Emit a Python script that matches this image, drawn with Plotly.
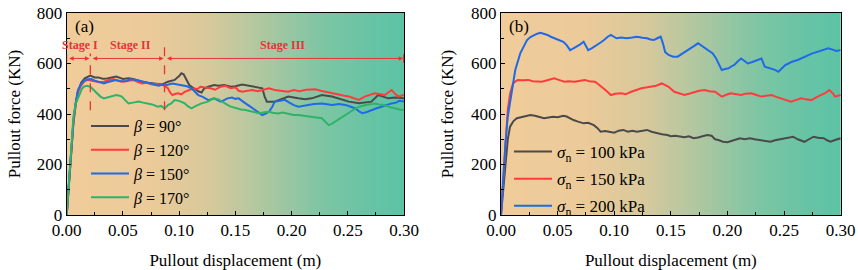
import plotly.graph_objects as go

# ---------------- data ----------------
# Panel (a): effect of angle beta
a_gray_x = [0, 0.002, 0.004, 0.006, 0.008, 0.010, 0.013, 0.016, 0.021, 0.025, 0.028, 0.032, 0.036, 0.040, 0.044, 0.050, 0.055, 0.059, 0.063, 0.067, 0.072, 0.076, 0.080, 0.085, 0.090, 0.096, 0.100, 0.102, 0.104, 0.107, 0.109, 0.113, 0.117, 0.120, 0.122, 0.126, 0.131, 0.135, 0.140, 0.146, 0.150, 0.156, 0.162, 0.168, 0.174, 0.176, 0.178, 0.185, 0.190, 0.197, 0.206, 0.212, 0.218, 0.227, 0.236, 0.243, 0.251, 0.260, 0.266, 0.271, 0.277, 0.282, 0.286, 0.292, 0.300]
a_gray_y = [0, 120, 260, 370, 440, 490, 525, 541, 552, 545, 545, 540, 541, 545, 548, 539, 542, 539, 533, 528, 524, 521, 518, 517, 528, 535, 550, 561, 557, 535, 515, 502, 490, 485, 500, 508, 515, 512, 515, 508, 510, 517, 512, 505, 502, 470, 449, 449, 458, 469, 462, 458, 462, 475, 469, 460, 449, 443, 446, 449, 475, 468, 462, 465, 462]

a_red_x = [0, 0.002, 0.004, 0.006, 0.008, 0.010, 0.013, 0.016, 0.019, 0.022, 0.025, 0.029, 0.033, 0.037, 0.041, 0.045, 0.050, 0.054, 0.059, 0.063, 0.067, 0.071, 0.076, 0.080, 0.085, 0.088, 0.090, 0.092, 0.094, 0.097, 0.099, 0.102, 0.105, 0.109, 0.113, 0.116, 0.119, 0.123, 0.128, 0.132, 0.137, 0.141, 0.146, 0.150, 0.153, 0.156, 0.160, 0.165, 0.170, 0.174, 0.180, 0.185, 0.190, 0.197, 0.202, 0.207, 0.213, 0.221, 0.226, 0.230, 0.236, 0.242, 0.247, 0.251, 0.256, 0.260, 0.265, 0.270, 0.274, 0.279, 0.283, 0.286, 0.289, 0.292, 0.295, 0.300]
a_red_y = [0, 120, 255, 365, 435, 485, 515, 530, 535, 532, 531, 526, 528, 534, 539, 532, 528, 531, 535, 527, 521, 524, 517, 519, 515, 508, 502, 485, 475, 480, 482, 478, 488, 495, 502, 498, 508, 505, 502, 496, 508, 512, 502, 506, 492, 488, 492, 495, 490, 495, 502, 495, 492, 488, 495, 490, 496, 498, 492, 488, 480, 475, 472, 469, 462, 456, 469, 476, 482, 478, 475, 485, 495, 480, 469, 475]

a_blue_x = [0, 0.002, 0.004, 0.006, 0.008, 0.010, 0.013, 0.016, 0.019, 0.022, 0.025, 0.028, 0.031, 0.033, 0.036, 0.039, 0.042, 0.044, 0.048, 0.053, 0.057, 0.062, 0.066, 0.070, 0.074, 0.079, 0.082, 0.085, 0.089, 0.094, 0.098, 0.103, 0.107, 0.111, 0.114, 0.117, 0.121, 0.126, 0.131, 0.134, 0.137, 0.140, 0.143, 0.147, 0.150, 0.153, 0.156, 0.159, 0.163, 0.168, 0.171, 0.174, 0.177, 0.180, 0.183, 0.185, 0.190, 0.194, 0.198, 0.202, 0.206, 0.210, 0.215, 0.220, 0.227, 0.232, 0.236, 0.242, 0.248, 0.252, 0.257, 0.260, 0.263, 0.267, 0.271, 0.275, 0.280, 0.284, 0.289, 0.293, 0.296, 0.300]
a_blue_y = [0, 125, 265, 375, 445, 495, 520, 535, 538, 539, 532, 528, 522, 521, 526, 528, 533, 535, 530, 531, 538, 535, 531, 528, 522, 515, 512, 517, 515, 521, 518, 515, 510, 502, 490, 475, 468, 455, 462, 455, 449, 455, 462, 465, 460, 462, 450, 442, 430, 416, 405, 396, 402, 409, 430, 449, 452, 456, 445, 435, 429, 432, 436, 440, 442, 438, 436, 440, 436, 430, 422, 410, 403, 408, 416, 422, 429, 436, 442, 445, 452, 449]

a_green_x = [0, 0.002, 0.004, 0.006, 0.008, 0.0107, 0.013, 0.015, 0.018, 0.021, 0.023, 0.026, 0.030, 0.033, 0.036, 0.040, 0.044, 0.047, 0.049, 0.052, 0.055, 0.060, 0.064, 0.068, 0.072, 0.076, 0.081, 0.084, 0.087, 0.090, 0.093, 0.096, 0.100, 0.105, 0.108, 0.111, 0.115, 0.120, 0.125, 0.131, 0.135, 0.140, 0.143, 0.146, 0.150, 0.155, 0.159, 0.164, 0.168, 0.171, 0.176, 0.180, 0.183, 0.188, 0.192, 0.197, 0.202, 0.206, 0.211, 0.218, 0.222, 0.227, 0.230, 0.233, 0.236, 0.239, 0.243, 0.248, 0.252, 0.257, 0.261, 0.266, 0.270, 0.274, 0.278, 0.282, 0.287, 0.292, 0.296, 0.300]
a_green_y = [0, 130, 290, 390, 440, 470, 495, 508, 512, 508, 500, 488, 469, 462, 465, 470, 475, 472, 469, 455, 442, 446, 449, 445, 442, 438, 429, 432, 422, 435, 442, 455, 452, 442, 430, 422, 432, 442, 448, 462, 458, 442, 436, 429, 424, 418, 416, 410, 405, 403, 407, 409, 405, 402, 406, 400, 396, 396, 392, 389, 386, 383, 370, 356, 362, 370, 382, 396, 408, 422, 430, 436, 440, 442, 438, 436, 428, 422, 418, 416]

# Panel (b): effect of normal stress
b_gray_x = [0, 0.002, 0.004, 0.006, 0.008, 0.011, 0.014, 0.017, 0.020, 0.023, 0.026, 0.030, 0.034, 0.038, 0.042, 0.046, 0.050, 0.055, 0.058, 0.061, 0.064, 0.068, 0.073, 0.077, 0.082, 0.085, 0.088, 0.092, 0.096, 0.100, 0.104, 0.108, 0.112, 0.116, 0.120, 0.124, 0.129, 0.133, 0.138, 0.142, 0.147, 0.150, 0.154, 0.158, 0.162, 0.166, 0.170, 0.174, 0.178, 0.182, 0.186, 0.189, 0.192, 0.196, 0.200, 0.204, 0.208, 0.211, 0.215, 0.220, 0.224, 0.229, 0.233, 0.238, 0.242, 0.246, 0.250, 0.254, 0.258, 0.262, 0.265, 0.268, 0.272, 0.276, 0.280, 0.285, 0.288, 0.291, 0.295, 0.300]
b_gray_y = [0, 110, 220, 300, 350, 372, 383, 387, 389, 392, 396, 393, 388, 383, 386, 389, 387, 393, 390, 382, 376, 370, 363, 365, 356, 345, 330, 333, 330, 326, 334, 337, 330, 334, 330, 334, 337, 330, 323, 320, 317, 312, 314, 310, 308, 312, 304, 307, 312, 317, 314, 300, 297, 290, 288, 294, 300, 304, 300, 304, 300, 297, 292, 290, 296, 300, 304, 308, 310, 300, 294, 290, 300, 310, 306, 304, 296, 290, 297, 304]

b_red_x = [0, 0.002, 0.004, 0.006, 0.008, 0.0106, 0.013, 0.015, 0.019, 0.024, 0.028, 0.032, 0.036, 0.040, 0.044, 0.047, 0.051, 0.056, 0.060, 0.065, 0.070, 0.074, 0.078, 0.083, 0.086, 0.089, 0.093, 0.097, 0.101, 0.106, 0.110, 0.115, 0.119, 0.124, 0.128, 0.133, 0.137, 0.142, 0.145, 0.148, 0.153, 0.158, 0.162, 0.166, 0.171, 0.175, 0.180, 0.184, 0.189, 0.192, 0.195, 0.199, 0.203, 0.208, 0.212, 0.216, 0.221, 0.225, 0.230, 0.234, 0.239, 0.243, 0.248, 0.252, 0.256, 0.260, 0.265, 0.269, 0.274, 0.278, 0.283, 0.287, 0.290, 0.293, 0.295, 0.298, 0.300]
b_red_y = [0, 140, 290, 416, 480, 521, 530, 535, 534, 535, 530, 528, 528, 533, 538, 541, 535, 528, 530, 528, 532, 535, 530, 528, 518, 508, 492, 475, 480, 482, 478, 488, 495, 502, 505, 508, 512, 521, 515, 508, 488, 482, 475, 480, 488, 492, 495, 490, 488, 478, 469, 476, 482, 478, 475, 480, 482, 476, 469, 472, 475, 468, 462, 455, 449, 455, 462, 458, 455, 465, 475, 485, 495, 482, 469, 472, 475]

b_blue_x = [0, 0.002, 0.004, 0.006, 0.008, 0.0126, 0.017, 0.020, 0.023, 0.026, 0.029, 0.032, 0.035, 0.038, 0.041, 0.044, 0.047, 0.050, 0.052, 0.055, 0.058, 0.061, 0.064, 0.067, 0.070, 0.073, 0.075, 0.077, 0.080, 0.085, 0.088, 0.091, 0.094, 0.097, 0.100, 0.102, 0.106, 0.111, 0.116, 0.120, 0.125, 0.129, 0.132, 0.135, 0.138, 0.141, 0.143, 0.145, 0.148, 0.152, 0.156, 0.160, 0.165, 0.169, 0.174, 0.178, 0.183, 0.187, 0.190, 0.193, 0.195, 0.198, 0.201, 0.204, 0.206, 0.209, 0.212, 0.215, 0.218, 0.222, 0.227, 0.230, 0.233, 0.236, 0.239, 0.242, 0.245, 0.248, 0.251, 0.254, 0.257, 0.262, 0.266, 0.271, 0.275, 0.280, 0.284, 0.289, 0.293, 0.296, 0.300]
b_blue_y = [0, 150, 290, 390, 442, 574, 640, 670, 693, 705, 713, 718, 722, 718, 713, 706, 700, 696, 693, 686, 673, 653, 660, 667, 676, 686, 670, 653, 660, 673, 683, 693, 705, 713, 706, 700, 703, 700, 703, 706, 702, 700, 695, 693, 700, 706, 680, 645, 634, 627, 627, 638, 653, 665, 680, 668, 653, 640, 620, 595, 574, 578, 581, 590, 594, 608, 620, 610, 600, 606, 614, 620, 587, 583, 581, 575, 567, 580, 594, 600, 607, 614, 622, 634, 640, 647, 652, 660, 655, 650, 653]

a_names = ["<i>β</i> = 90°", "<i>β</i> = 120°", "<i>β</i> = 150°", "<i>β</i> = 170°"]
b_names = ["<i>σ</i><sub>n</sub> = 100 kPa", "<i>σ</i><sub>n</sub> = 150 kPa", "<i>σ</i><sub>n</sub> = 200 kPa"]
x_ticks = [0, 0.05, 0.10, 0.15, 0.20, 0.25, 0.30]
y_ticks = [0, 200, 400, 600, 800]
stage_bounds = [0.0, 0.021, 0.087, 0.30]
stage_labels = ["Stage I", "Stage II", "Stage III"]

# ---------------- style ----------------
FONT = "Liberation Serif, Times New Roman, serif"
C_GRAY, C_RED, C_BLUE, C_GREEN = "#4a4a4a", "#ff3b3b", "#1f6ae6", "#2db469"
C_STAGE = "#e8323a"

fig = go.Figure()

a_series = [(a_gray_x, a_gray_y, C_GRAY), (a_red_x, a_red_y, C_RED),
            (a_blue_x, a_blue_y, C_BLUE), (a_green_x, a_green_y, C_GREEN)]
for i, (xs, ys, c) in enumerate(a_series):
    fig.add_trace(go.Scatter(x=xs, y=ys, mode="lines", name=a_names[i],
                             line=dict(color=c, width=2), xaxis="x", yaxis="y",
                             legend="legend", legendgroup="a%d" % i))

b_series = [(b_gray_x, b_gray_y, C_GRAY), (b_red_x, b_red_y, C_RED), (b_blue_x, b_blue_y, C_BLUE)]
for i, (xs, ys, c) in enumerate(b_series):
    fig.add_trace(go.Scatter(x=xs, y=ys, mode="lines", name=b_names[i],
                             line=dict(color=c, width=2), xaxis="x2", yaxis="y2",
                             legend="legend2", legendgroup="b%d" % i))

# gradient background (orange -> teal) as thin strips
stops = [(0.0, (240, 204, 154)), (0.25, (236, 202, 154)), (0.42, (216, 201, 156)),
         (0.58, (175, 199, 160)), (0.75, (128, 197, 164)), (0.9, (102, 196, 165)),
         (1.0, (94, 195, 165))]

def grad(t):
    for (t0, c0), (t1, c1) in zip(stops[:-1], stops[1:]):
        if t0 <= t <= t1:
            f = (t - t0) / (t1 - t0)
            return "rgb(%d,%d,%d)" % tuple(round(a + (b - a) * f) for a, b in zip(c0, c1))
    return "rgb(%d,%d,%d)" % stops[-1][1]

shapes = []
N = 90
for xr, yr in (("x domain", "y domain"), ("x2 domain", "y2 domain")):
    for k in range(N):
        shapes.append(dict(type="rect", xref=xr, yref=yr, x0=k / N, x1=(k + 1.6) / N if k < N - 1 else 1,
                           y0=0, y1=1, fillcolor=grad((k + 0.5) / N), line=dict(width=0), layer="below"))

# stage annotations on panel (a)
annotations = []
for xb, ytop in ((stage_bounds[1], 640), (stage_bounds[2], 680)):
    shapes.append(dict(type="line", xref="x", yref="y", x0=xb, x1=xb, y0=415, y1=ytop,
                       line=dict(color=C_STAGE, width=1.3, dash="dash")))
for xb in (stage_bounds[0], stage_bounds[3]):
    shapes.append(dict(type="line", xref="x", yref="y", x0=xb, x1=xb, y0=603, y1=637,
                       line=dict(color=C_STAGE, width=2 if xb > 0 else 1)))
for i in range(3):
    x0, x1 = stage_bounds[i], stage_bounds[i + 1]
    annotations.append(dict(x=x1 - 0.0008, y=620, ax=x0 + 0.0008, ay=620, xref="x", yref="y",
                            axref="x", ayref="y", text="", showarrow=True, arrowhead=2,
                            arrowside="end+start", arrowsize=0.9, arrowwidth=1, arrowcolor=C_STAGE))
stage_cx = [0.012, 0.057, 0.192]
for i in range(3):
    annotations.append(dict(x=stage_cx[i], y=672, xref="x", yref="y", text="<b>%s</b>" % stage_labels[i],
                            showarrow=False, font=dict(family=FONT, size=12, color=C_STAGE)))

annotations.append(dict(x=0.018, y=0.935, xref="x domain", yref="y domain", text="(a)", showarrow=False,
                        xanchor="left", yanchor="middle", font=dict(family=FONT, size=17, color="black")))
annotations.append(dict(x=0.018, y=0.935, xref="x2 domain", yref="y2 domain", text="(b)", showarrow=False,
                        xanchor="left", yanchor="middle", font=dict(family=FONT, size=17, color="black")))

# the page's default body margin is removed below, so the figure fills the window
W, H = 858, 270

def px(sx):
    return sx / W

def py(sy):
    return 1 - sy / H

xd1 = [px(66.7), px(404)]
xd2 = [px(501), px(840.7)]
yd = [py(215), py(13)]

def xax(domain, anchor):
    return dict(domain=domain, anchor=anchor, range=[0, 0.3], tickvals=x_ticks, tickformat=".2f",
                ticks="inside", ticklen=4, tickwidth=1, tickcolor="black",
                minor=dict(ticks="inside", ticklen=3, dtick=0.025, tick0=0, tickcolor="black"),
                showline=True, linecolor="black", linewidth=1, mirror=True,
                showgrid=False, zeroline=False, automargin=False, ticklabeloverflow="allow",
                tickfont=dict(family=FONT, size=17, color="black"),
                title=dict(text="Pullout displacement (m)", font=dict(family=FONT, size=17, color="black"),
                           standoff=14))

def yax(domain, anchor, standoff):
    return dict(domain=domain, anchor=anchor, range=[0, 800], tickvals=y_ticks,
                ticks="inside", ticklen=4, tickwidth=1, tickcolor="black",
                minor=dict(ticks="inside", ticklen=3, dtick=100, tick0=0, tickcolor="black"),
                showline=True, linecolor="black", linewidth=1, mirror=True,
                showgrid=False, zeroline=False, automargin=False, ticklabeloverflow="allow",
                tickfont=dict(family=FONT, size=17, color="black"),
                title=dict(text="Pullout force (KN)", font=dict(family=FONT, size=17, color="black"),
                           standoff=standoff))

fig.update_layout(
    width=W, height=H, autosize=False,
    margin=dict(l=0, r=0, t=0, b=0, autoexpand=False),
    paper_bgcolor="white", plot_bgcolor="white",
    xaxis=xax(xd1, "y"), yaxis=yax(yd, "x", 11),
    xaxis2=xax(xd2, "y2"), yaxis2=yax(yd, "x2", 13),
    shapes=shapes, annotations=annotations,
    legend=dict(x=px(86), y=py(109), xanchor="left", yanchor="top", bgcolor="rgba(0,0,0,0)",
                font=dict(family=FONT, size=16, color="black"), itemwidth=38, tracegroupgap=0,
                borderwidth=0),
    legend2=dict(x=px(509), y=py(134), xanchor="left", yanchor="top", bgcolor="rgba(0,0,0,0)",
                 font=dict(family=FONT, size=17, color="black"), itemwidth=38, tracegroupgap=2,
                 borderwidth=0),
    showlegend=True,
)

fig.write_html("out.html", config={"displayModeBar": False},
               post_script="document.body.style.margin='0';document.body.style.overflow='hidden';")
